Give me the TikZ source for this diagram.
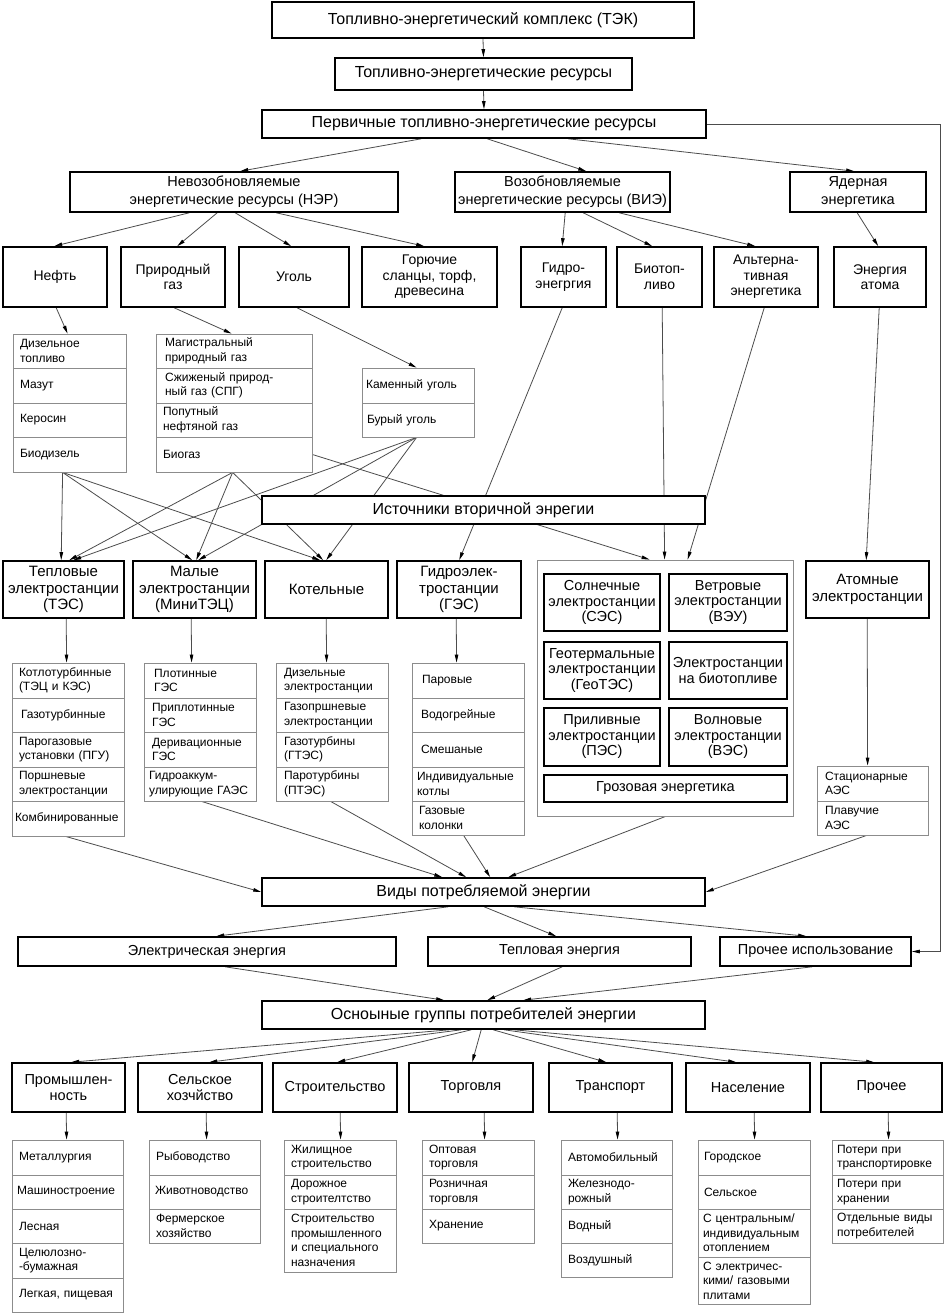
\documentclass[tikz,border=0pt]{standalone}
\usepackage{fontspec}
\setmainfont{Liberation Sans}
\usetikzlibrary{arrows.meta}
\pgfdeclarelayer{background}
\pgfsetlayers{background,main}
\newcommand{\fsz}[2]{\fontsize{#1}{#2}\selectfont}
\newcommand{\bx}[7]{%
 \pgfmathsetmacro\myW{#5-#3}\pgfmathsetmacro\myH{#6-#4}%
 \pgfmathsetmacro\myX{(#3+#5)/2}\pgfmathsetmacro\myY{(#4+#6)/2}%
 \node[#1, minimum width=\myW pt, minimum height=\myH pt] (#2) at (\myX,\myY) {#7};}
\newcommand{\cell}[7][7]{%
 \pgfmathsetmacro\myW{#5-#3-2*#1}\pgfmathsetmacro\myH{#6-#4}%
 \pgfmathsetmacro\myX{(#3+#5)/2}\pgfmathsetmacro\myY{(#4+#6)/2}%
 \node[lb, inner xsep=#1pt, text width=\myW pt, minimum height=\myH pt] (#2) at (\myX,\myY) {#7};}
\tikzset{
 mb/.style={draw=black, line width=1.6pt, fill=white, inner sep=0pt, align=center},
 tbig/.style={mb, font=\fsz{16}{19}},
 trow2/.style={mb, font=\fsz{14.5}{18}},
 trow3/.style={mb, font=\fsz{14}{15.5}},
 tst/.style={mb, font=\fsz{15}{16.5}},
 tren/.style={mb, font=\fsz{14.5}{15.5}},
 ten/.style={mb, font=\fsz{14.5}{17}},
 tcat/.style={mb, font=\fsz{14.5}{16}},
 cont/.style={draw=black!45, line width=0.8pt, fill=white, inner sep=0pt},
 lb/.style={draw=black!45, line width=0.8pt, fill=white, inner ysep=0pt, align=left, font=\fsz{12}{14.5}},
 conn/.style={draw=black!70, line width=0.8pt, -{Triangle[length=8pt,width=3.5pt,color=black]}},
}
\begin{document}
\begin{tikzpicture}[x=1pt,y=-1pt]
\useasboundingbox (0,0) rectangle (945,1313);
% ---- top
\bx{tbig}{tek}{272}{2}{694}{38}{Топливно-энергетический комплекс (ТЭК)}
\bx{tbig}{ter}{335}{58}{632}{90}{Топливно-энергетические ресурсы}
\bx{tbig}{perv}{262}{110}{706}{138}{Первичные топливно-энергетические ресурсы}
\bx{trow2}{ner}{70}{172}{398}{212}{Невозобновляемые\\энергетические ресурсы (НЭР)}
\bx{trow2}{vie}{455}{172}{670}{212}{Возобновляемые\\энергетические ресурсы (ВИЭ)}
\bx{trow2}{yad}{790}{172}{926}{212}{Ядерная\\энергетика}
% ---- row 3
\bx{trow3}{neft}{3}{247}{107}{307}{Нефть}
\bx{trow3}{gaz}{121}{247}{225}{307}{Природный\\газ}
\bx{trow3}{ugol}{239}{247}{349}{307}{Уголь}
\bx{trow3}{gor}{362}{247}{497}{307}{Горючие\\сланцы, торф,\\древесина}
\bx{trow3}{gidro}{521}{247}{606}{307}{Гидро-\\энегргия}
\bx{trow3}{bio}{617}{247}{702}{307}{Биотоп-\\ливо}
\bx{trow3}{alt}{714}{247}{818}{307}{Альтерна-\\тивная\\энергетика}
\bx{trow3}{atom}{834}{247}{926}{307}{Энергия\\атома}
% ---- fuel lists
\cell{nl1}{13}{334}{126}{368}{Дизельное\\топливо}
\cell{nl2}{13}{368}{126}{403}{Мазут}
\cell{nl3}{13}{403}{126}{437}{Керосин}
\cell{nl4}{13}{437}{126}{472}{Биодизель}
\cell[9]{gl1}{156}{334}{312}{368}{Магистральный\\природный газ}
\cell[9]{gl2}{156}{368}{312}{403}{Сжиженый природ-\\ный газ (СПГ)}
\cell{gl3}{156}{403}{312}{437}{Попутный\\нефтяной газ}
\cell{gl4}{156}{437}{312}{472}{Биогаз}
\cell[4]{ul1}{362}{368}{474}{403}{Каменный уголь}
\cell[5]{ul2}{362}{403}{474}{437}{Бурый уголь}
% ---- secondary
\bx{tbig}{src}{262}{496}{705}{524}{Источники вторичной энрегии}
% ---- stations
\bx{tst}{tes}{3}{561}{124}{618}{Тепловые\\электростанции\\(ТЭС)}
\bx{tst}{mini}{133}{561}{256}{618}{Малые\\электростанции\\(МиниТЭЦ)}
\bx{tst}{kot}{265}{561}{388}{618}{Котельные}
\bx{tst}{ges}{397}{561}{521}{618}{Гидроэлек-\\тростанции\\(ГЭС)}
\bx{tst}{aes}{806}{561}{929}{618}{Атомные\\электростанции}
\bx{cont}{ren}{537}{560}{793}{816}{}
\bx{tren}{sol}{544}{574}{660}{631}{Солнечные\\электростанции\\(СЭС)}
\bx{tren}{vet}{669}{574}{787}{631}{Ветровые\\электростанции\\(ВЭУ)}
\bx{tren}{geo}{544}{642}{660}{699}{Геотермальные\\электростанции\\(ГеоТЭС)}
\bx{tren}{bioes}{669}{642}{787}{699}{Электростанции\\на биотопливе}
\bx{tren}{pril}{544}{708}{660}{766}{Приливные\\электростанции\\(ПЭС)}
\bx{tren}{voln}{669}{708}{787}{766}{Волновые\\электростанции\\(ВЭС)}
\bx{tren}{groz}{544}{775}{787}{802}{Грозовая энергетика}
% ---- station lists
\cell{tl1}{12}{663}{124}{698}{Котлотурбинные\\(ТЭЦ и КЭС)}
\cell[9]{tl2}{12}{698}{124}{732}{Газотурбинные}
\cell{tl3}{12}{732}{124}{767}{Парогазовые\\установки (ПГУ)}
\cell{tl4}{12}{767}{124}{801}{Поршневые\\электростанции}
\cell[3]{tl5}{12}{801}{124}{836}{Комбинированные}
\cell[10]{ml1}{144}{663}{256}{698}{Плотинные\\ГЭС}
\cell[8]{ml2}{144}{698}{256}{732}{Приплотинные\\ГЭС}
\cell[8]{ml3}{144}{732}{256}{767}{Деривационные\\ГЭС}
\cell[5]{ml4}{144}{767}{256}{801}{Гидроаккум-\\улирующие ГАЭС}
\cell[8]{kl1}{276}{663}{388}{698}{Дизельные\\электростанции}
\cell[8]{kl2}{276}{698}{388}{732}{Газопршневые\\электростанции}
\cell[8]{kl3}{276}{732}{388}{767}{Газотурбины\\(ГТЭС)}
\cell[8]{kl4}{276}{767}{388}{801}{Паротурбины\\(ПТЭС)}
\cell[10]{hl1}{412}{663}{524}{698}{Паровые}
\cell[9]{hl2}{412}{698}{524}{732}{Водогрейные}
\cell[9]{hl3}{412}{732}{524}{767}{Смешаные}
\cell[5]{hl4}{412}{767}{524}{801}{Индивидуальные\\котлы}
\cell[7]{hl5}{412}{801}{524}{835}{Газовые\\колонки}
\cell[8]{al1}{817}{766}{928}{801}{Стационарные\\АЭС}
\cell[8]{al2}{817}{801}{928}{835}{Плавучие\\АЭС}
% ---- consumption
\bx{tbig}{vid}{262}{878}{705}{906}{Виды потребляемой энергии}
\bx{ten}{el}{18}{937}{396}{966}{Электрическая энергия}
\bx{ten}{tep}{428}{937}{691}{966}{Тепловая энергия}
\bx{ten}{pro}{720}{937}{911}{966}{Прочее использование}
\bx{tbig}{osn}{262}{1001}{705}{1029}{Осноыные группы потребителей энергии}
% ---- consumer groups
\bx{tcat}{prom}{12}{1063}{125}{1112}{Промышлен-\\ность}
\bx{tcat}{sel}{138}{1063}{262}{1112}{Сельское\\хозчйство}
\bx{tcat}{stroi}{273}{1063}{397}{1112}{Строительство}
\bx{tcat}{torg}{409}{1063}{533}{1112}{Торговля}
\bx{tcat}{trans}{549}{1063}{672}{1112}{Транспорт}
\bx{tcat}{nas}{686}{1063}{810}{1112}{Население}
\bx{tcat}{proch}{821}{1063}{942}{1112}{Прочее}
% ---- consumer lists
\cell{pl1}{12}{1140}{123}{1175}{Металлургия}
\cell[5]{pl2}{12}{1175}{123}{1209}{Машиностроение}
\cell{pl3}{12}{1209}{123}{1243}{Лесная}
\cell{pl4}{12}{1243}{123}{1278}{Целюлозно-\\-бумажная}
\cell{pl5}{12}{1278}{123}{1312}{Легкая, пищевая}
\cell[7]{sl1}{149}{1140}{260}{1175}{Рыбоводство}
\cell[6]{sl2}{149}{1175}{260}{1209}{Животноводство}
\cell[7]{sl3}{149}{1209}{260}{1243}{Фермерское\\хозяйство}
\cell{stl1}{284}{1140}{396}{1175}{Жилищное\\строительство}
\cell{stl2}{284}{1175}{396}{1209}{Дорожное\\строителтство}
\cell{stl3}{284}{1209}{396}{1272}{Строительство\\промышленного\\и специального\\назначения}
\cell{tgl1}{422}{1140}{534}{1175}{Оптовая\\торговля}
\cell{tgl2}{422}{1175}{534}{1209}{Розничная\\торговля}
\cell{tgl3}{422}{1209}{534}{1243}{Хранение}
\cell{trl1}{561}{1140}{672}{1175}{Автомобильный}
\cell{trl2}{561}{1175}{672}{1209}{Железнодо-\\рожный}
\cell{trl3}{561}{1209}{672}{1243}{Водный}
\cell{trl4}{561}{1243}{672}{1277}{Воздушный}
\cell[6]{nsl1}{698}{1140}{810}{1175}{Городское}
\cell[6]{nsl2}{698}{1175}{810}{1209}{Сельское}
\cell[5]{nsl3}{698}{1209}{810}{1257}{С центральным/\\индивидуальным\\отоплением}
\cell[5]{nsl4}{698}{1257}{810}{1304}{С электричес-\\кими/ газовыми\\плитами}
\cell[5]{prl1}{832}{1140}{943}{1175}{Потери при\\транспортировке}
\cell[5]{prl2}{832}{1175}{943}{1209}{Потери при\\хранении}
\cell[5]{prl3}{832}{1209}{943}{1243}{Отдельные виды\\потребителей}
\coordinate (pr) at (940,124);
% ---- connectors
\begin{pgfonlayer}{background}
\draw[conn] (tek.south) -- (ter.north);
\draw[conn] (ter.south) -- (perv.north);
\draw[conn] ([xshift=160pt]perv.south west) -- ([xshift=171pt]ner.north west);
\draw[conn] ([xshift=226pt]perv.south west) -- ([xshift=132pt]vie.north west);
\draw[conn] ([xshift=307pt]perv.south west) -- ([xshift=65pt]yad.north west);
\draw[conn] (perv.east) -- (perv.east -| pr) |- (pro.east);
\draw[conn] ([xshift=120pt]ner.south west) -- ([xshift=52pt]neft.north west);
\draw[conn] ([xshift=148pt]ner.south west) -- ([xshift=57pt]gaz.north west);
\draw[conn] ([xshift=166pt]ner.south west) -- ([xshift=53pt]ugol.north west);
\draw[conn] ([xshift=207pt]ner.south west) -- ([xshift=63pt]gor.north west);
\draw[conn] ([xshift=111pt]vie.south west) -- ([xshift=42pt]gidro.north west);
\draw[conn] ([xshift=129pt]vie.south west) -- ([xshift=36pt]bio.north west);
\draw[conn] ([xshift=165pt]vie.south west) -- ([xshift=42pt]alt.north west);
\draw[conn] ([xshift=68pt]yad.south west) -- ([xshift=45pt]atom.north west);
\draw[conn] ([xshift=54pt]neft.south west) -- ([xshift=55pt]nl1.north west);
\draw[conn] ([xshift=54pt]gaz.south west) -- ([xshift=76pt]gl1.north west);
\draw[conn] ([xshift=59pt]ugol.south west) -- ([xshift=55pt]ul1.north west);
\draw[conn] ([xshift=42pt]gidro.south west) -- ([xshift=63pt]ges.north west);
\draw[conn] ([xshift=46pt]bio.south west) -- ([xshift=128pt]ren.north west);
\draw[conn] ([xshift=51pt]alt.south west) -- ([xshift=151pt]ren.north west);
\draw[conn] ([xshift=46pt]atom.south west) -- ([xshift=61pt]aes.north west);
% fuels to stations
\draw[conn] ([xshift=50pt]nl4.south west) -- ([xshift=59pt]tes.north west);
\draw[conn] ([xshift=50pt]nl4.south west) -- ([xshift=60pt]mini.north west);
\draw[conn] ([xshift=50pt]nl4.south west) -- ([xshift=56pt]kot.north west);
\draw[conn] ([xshift=77pt]gl4.south west) -- ([xshift=67pt]tes.north west);
\draw[conn] ([xshift=77pt]gl4.south west) -- ([xshift=64pt]mini.north west);
\draw[conn] ([xshift=77pt]gl4.south west) -- ([xshift=59pt]kot.north west);
\draw[conn] (gl4.east) -- ([xshift=113pt]ren.north west);
\draw[conn] ([xshift=55pt]ul2.south west) -- ([xshift=71pt]tes.north west);
\draw[conn] ([xshift=55pt]ul2.south west) -- ([xshift=66pt]mini.north west);
\draw[conn] ([xshift=55pt]ul2.south west) -- ([xshift=62pt]kot.north west);
% stations to lists
\draw[conn] ([xshift=64pt]tes.south west) -- ([xshift=55pt]tl1.north west);
\draw[conn] ([xshift=59pt]mini.south west) -- ([xshift=48pt]ml1.north west);
\draw[conn] ([xshift=62pt]kot.south west) -- ([xshift=51pt]kl1.north west);
\draw[conn] ([xshift=60pt]ges.south west) -- ([xshift=45pt]hl1.north west);
\draw[conn] ([xshift=62pt]aes.south west) -- ([xshift=51pt]al1.north west);
% lists to consumption
\draw[conn] ([xshift=54pt]tl5.south west) -- (vid.west);
\draw[conn] ([xshift=58pt]ml4.south west) -- ([xshift=181pt]vid.north west);
\draw[conn] ([xshift=55pt]kl4.south west) -- ([xshift=205pt]vid.north west);
\draw[conn] ([xshift=52pt]hl5.south west) -- ([xshift=229pt]vid.north west);
\draw[conn] ([xshift=129pt]ren.south west) -- ([xshift=247pt]vid.north west);
\draw[conn] ([xshift=50pt]al2.south west) -- (vid.east);
\draw[conn] ([xshift=187pt]vid.south west) -- ([xshift=199pt]el.north west);
\draw[conn] ([xshift=223pt]vid.south west) -- ([xshift=129pt]tep.north west);
\draw[conn] ([xshift=253pt]vid.south west) -- ([xshift=87pt]pro.north west);
\draw[conn] ([xshift=208pt]el.south west) -- ([xshift=183pt]osn.north west);
\draw[conn] ([xshift=135pt]tep.south west) -- ([xshift=226pt]osn.north west);
\draw[conn] ([xshift=93pt]pro.south west) -- ([xshift=262pt]osn.north west);
% consumer groups
\draw[conn] ([xshift=188pt]osn.south west) -- ([xshift=60pt]prom.north west);
\draw[conn] ([xshift=200pt]osn.south west) -- ([xshift=72pt]sel.north west);
\draw[conn] ([xshift=210pt]osn.south west) -- ([xshift=65pt]stroi.north west);
\draw[conn] ([xshift=220pt]osn.south west) -- ([xshift=64pt]torg.north west);
\draw[conn] ([xshift=232pt]osn.south west) -- ([xshift=58pt]trans.north west);
\draw[conn] ([xshift=243pt]osn.south west) -- ([xshift=51pt]nas.north west);
\draw[conn] ([xshift=253pt]osn.south west) -- ([xshift=54pt]proch.north west);
\draw[conn] ([xshift=55pt]prom.south west) -- ([xshift=55pt]pl1.north west);
\draw[conn] ([xshift=69pt]sel.south west) -- ([xshift=58pt]sl1.north west);
\draw[conn] ([xshift=68pt]stroi.south west) -- ([xshift=57pt]stl1.north west);
\draw[conn] ([xshift=76pt]torg.south west) -- ([xshift=63pt]tgl1.north west);
\draw[conn] ([xshift=69pt]trans.south west) -- ([xshift=57pt]trl1.north west);
\draw[conn] ([xshift=69pt]nas.south west) -- ([xshift=57pt]nsl1.north west);
\draw[conn] ([xshift=68pt]proch.south west) -- ([xshift=57pt]prl1.north west);
\end{pgfonlayer}
\end{tikzpicture}
\end{document}
